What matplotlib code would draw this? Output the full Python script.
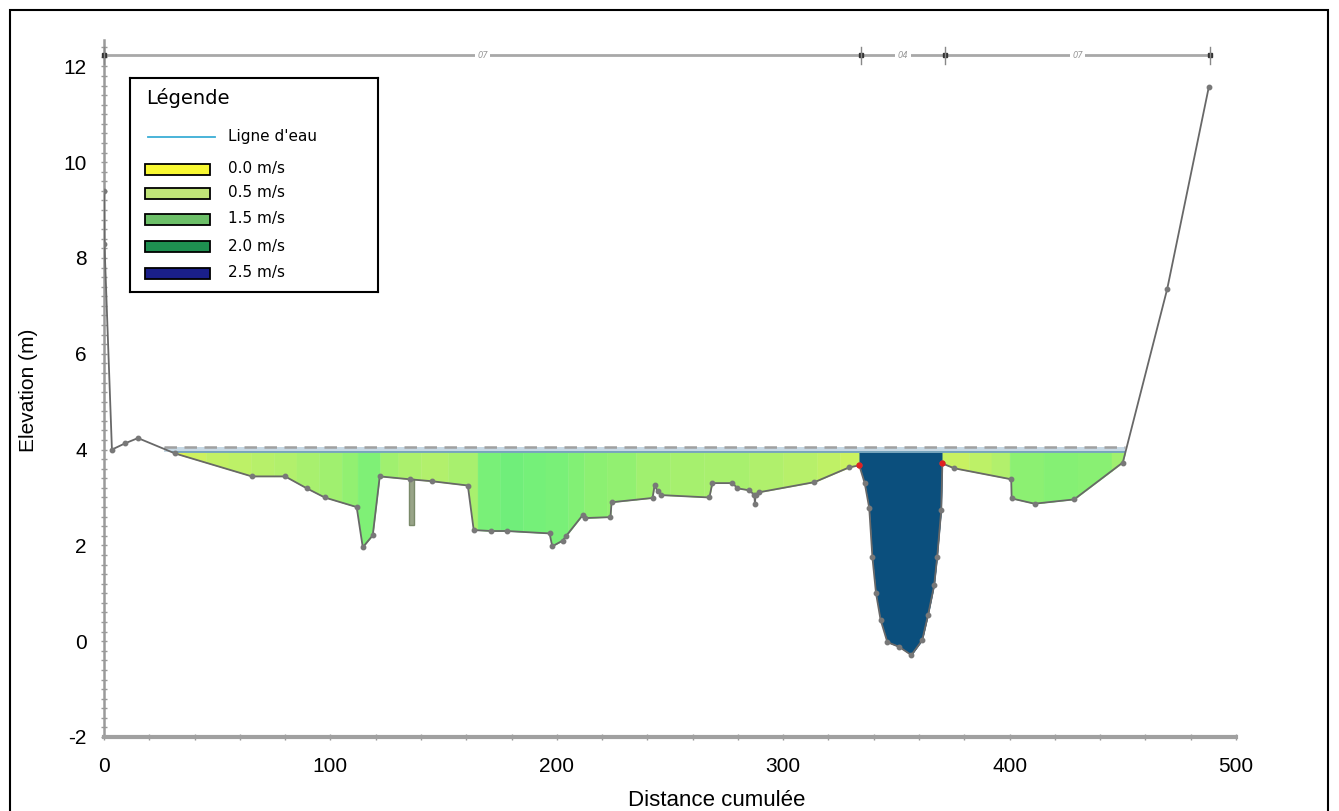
import numpy as np
import matplotlib
matplotlib.use("Agg")
import matplotlib.pyplot as plt
from matplotlib.colors import LinearSegmentedColormap, Normalize
from matplotlib.patches import Rectangle

plt.rcParams["axes.unicode_minus"] = False

# ---------------- data ----------------
dist = [0, 0.2, 3.5, 9.3, 15, 31.3, 65.3, 80, 89.6, 97.5, 111.6, 114.3, 118.7,
        121.8, 135, 144.7, 160.7, 163.3, 171, 177.8, 196.8, 198, 202.6, 204,
        211.4, 212.3, 223.7, 224.2, 242.3, 243.2, 244.5, 246, 267.4, 268.7,
        277.6, 279.8, 285, 287.3, 287.5, 287.8, 289.5, 313.8, 329.2, 333.6,
        336, 338, 339.4, 341, 343, 346, 351.3, 356.6, 361.4, 364, 366.7, 368,
        369.8, 370.3, 375.5, 400.7, 400.9, 411, 428.5, 450, 469.6, 488]
elev = [9.4, 8.3, 4.0, 4.13, 4.24, 3.92, 3.44, 3.44, 3.19, 3.0, 2.8, 1.96, 2.21,
        3.44, 3.38, 3.34, 3.25, 2.32, 2.3, 2.3, 2.25, 1.98, 2.1, 2.19,
        2.63, 2.57, 2.59, 2.9, 2.99, 3.26, 3.13, 3.05, 3.0, 3.3,
        3.3, 3.19, 3.15, 3.05, 2.86, 3.06, 3.11, 3.32, 3.63, 3.67,
        3.3, 2.78, 1.75, 1.0, 0.45, -0.02, -0.12, -0.29, 0.02, 0.55, 1.17, 1.75,
        2.73, 3.71, 3.61, 3.38, 2.98, 2.87, 2.96, 3.73, 7.35, 11.57]

water_level = 3.94
water_line_top = 4.05

# velocity strips (distance edges and mean velocity in m/s)
strip_edges = [0, 36, 45, 55, 65, 75, 85, 95, 105, 112, 122, 130, 140, 152,
               165, 175, 185, 195, 205, 212, 222, 235, 250, 265, 285, 300, 315,
               325, 333.6, 370.3, 382, 392, 400, 415, 430, 445, 460]
strip_vel = [0.2, 0.35, 0.45, 0.5, 0.55, 0.6, 0.68, 0.75, 0.85, 1.0, 0.75,
             0.65, 0.6, 0.68, 1.05, 1.12, 1.08, 1.05, 0.98, 0.9, 0.85, 0.75,
             0.7, 0.68, 0.62, 0.55, 0.48, 0.38, 2.5, 0.4, 0.5, 0.6, 0.9, 0.95,
             0.92, 0.75]

bank_x = [333.6, 370.3]
bank_y = [3.67, 3.71]

pier_x = 136.0
pier_bottom = 2.42
pier_top = 3.38

dim_edges = [0, 334.4, 371.5, 488.5]
dim_labels = ["07", "04", "07"]
dim_y = 12.23

legend_labels = ["0.0 m/s", "0.5 m/s", "1.5 m/s", "2.0 m/s", "2.5 m/s"]
legend_colors = ["#f8f832", "#c0e478", "#6cbf68", "#1e8f50", "#1a1f8a"]

x_ticks = [0, 100, 200, 300, 400, 500]
y_ticks = [-2, 0, 2, 4, 6, 8, 10, 12]

# ---------------- figure ----------------
W, H = 1339, 811
fig = plt.figure(figsize=(W / 100, H / 100), dpi=100)
fig.patch.set_facecolor("white")
ax = fig.add_axes([104 / W, 1 - 737 / H, (1236 - 104) / W, (737 - 40) / H])
ax.set_xlim(0, 500)
ax.set_ylim(-2, 12.55)

vel_cmap = LinearSegmentedColormap.from_list(
    "vel",
    [(0.0, "#eef53c"), (0.3 / 2.5, "#d2f25e"), (0.6 / 2.5, "#b2f06c"),
     (0.9 / 2.5, "#8cf072"), (1.1 / 2.5, "#72f07a"), (1.4 / 2.5, "#50c878"),
     (1.0, "#0b4f7d")])
norm = Normalize(0, 2.5)

xg = np.unique(np.concatenate([np.linspace(0, 500, 8001), strip_edges, dist]))
g = np.interp(xg, dist, elev)

for i, v in enumerate(strip_vel):
    m = (xg >= strip_edges[i]) & (xg <= strip_edges[i + 1])
    ax.fill_between(xg[m], g[m], water_level, where=g[m] < water_level,
                    interpolate=True, color=vel_cmap(norm(v)), lw=0.3,
                    edgecolor=vel_cmap(norm(v)), zorder=2)

wet = xg[g < water_level]
x_left, x_right = wet.min(), wet.max()

# water line band
ax.fill_between([x_left - 4, x_right], water_level, water_line_top,
                color="#c6d8e4", lw=0, zorder=3)
ax.plot([x_left - 4, x_right], [water_line_top, water_line_top],
        color="#a0a0a0", lw=1.8, ls=(0, (5, 3)), zorder=4)
ax.plot([x_left, x_right], [water_level, water_level],
        color="#6f9fb8", lw=1.3, zorder=4)

# pier
ax.add_patch(Rectangle((pier_x - 1.1, pier_bottom), 2.2, pier_top - pier_bottom,
                       facecolor="#98a488", edgecolor="#7a8a6a", lw=1, zorder=4))

# ground profile
ax.plot(dist, elev, color="#686868", lw=1.3, marker="o", ms=3.2,
        mfc="#787878", mec="#787878", zorder=5)
ax.plot(bank_x, bank_y, "o", color="#e02020", ms=3.5, zorder=6)

# dimension bar
ax.plot([dim_edges[0], dim_edges[-1]], [dim_y, dim_y], color="#a8a8a8",
        lw=2, zorder=3, clip_on=False)
ax.plot(dim_edges, [dim_y] * len(dim_edges), "s", color="#333333", ms=2.5,
        zorder=4, clip_on=False)
for xe in dim_edges:
    ax.plot([xe, xe], [dim_y - 0.18, dim_y + 0.18], color="#888888", lw=1,
            zorder=4, clip_on=False)
for i, lab in enumerate(dim_labels):
    xm = (dim_edges[i] + dim_edges[i + 1]) / 2
    ax.text(xm, dim_y, lab, fontsize=6, color="#999999", ha="center",
            va="center", style="italic", zorder=5,
            bbox=dict(boxstyle="square,pad=0.3", fc="white", ec="none"))

# axes styling
for s in ["top", "right"]:
    ax.spines[s].set_visible(False)
ax.spines["left"].set_color("#9a9a9a")
ax.spines["left"].set_linewidth(1.8)
ax.spines["bottom"].set_color("#a0a0a0")
ax.spines["bottom"].set_linewidth(3)
ax.set_xticks(x_ticks)
ax.set_yticks(y_ticks)
ax.set_xticks(np.arange(0, 501, 20), minor=True)
ax.set_yticks(np.arange(-2, 12.5, 0.2), minor=True)
ax.tick_params(which="both", direction="inout", length=5, width=1,
               color="#999999")
ax.tick_params(axis="x", labelsize=15, pad=12)
ax.tick_params(axis="y", labelsize=15, pad=10)
for lab in ax.get_xticklabels() + ax.get_yticklabels():
    lab.set_family("Liberation Sans")

fig.text(717 / W, 1 - 800 / H, "Distance cumulée", ha="center", va="center",
         fontsize=16, family="Liberation Sans")
fig.text(28 / W, 1 - 390 / H, "Elevation (m)", ha="center", va="center",
         rotation=90, fontsize=15, family="Liberation Sans")

# legend box
lax = fig.add_axes([130 / W, 1 - 292 / H, 248 / W, 214 / H])
lax.set_xlim(0, 248)
lax.set_ylim(214, 0)
lax.set_xticks([])
lax.set_yticks([])
for s in lax.spines.values():
    s.set_linewidth(1.5)
    s.set_color("black")
lax.text(16, 20, "Légende", fontsize=14, va="center", ha="left",
         family="DejaVu Sans")
lax.plot([18, 85], [59, 59], color="#3aaed6", lw=1.3)
lax.text(98, 59, "Ligne d'eau", fontsize=11, va="center", ha="left",
         family="DejaVu Sans")
ys = [91, 115, 141, 168, 195]
for y, lab, col in zip(ys, legend_labels, legend_colors):
    lax.add_patch(Rectangle((15, y - 5.5), 65, 11, facecolor=col,
                            edgecolor="black", lw=1.3))
    lax.text(98, y, lab, fontsize=11, va="center", ha="left",
             family="DejaVu Sans")

# outer frame
fig.add_artist(Rectangle((10 / W, -0.05), 1318 / W, 1 - 10 / H + 0.05,
                         transform=fig.transFigure, fill=False,
                         edgecolor="black", lw=1.5, clip_on=False))

fig.savefig("out.png", dpi=100)
